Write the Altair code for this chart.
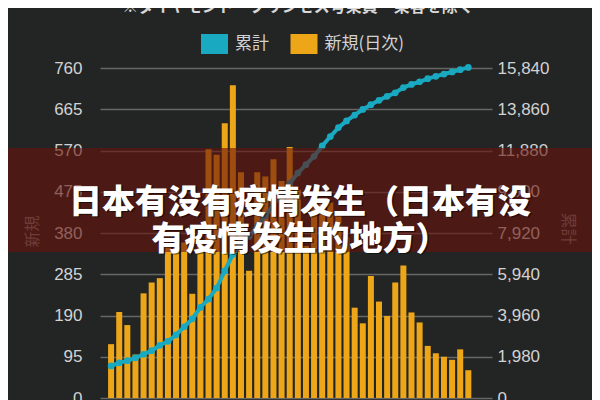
import altair as alt
import pandas as pd

# ---- data ----
days = list(range(45))
new_cases = [124, 198, 168, 100, 241, 266, 276, 356, 366, 358,
             240, 360, 573, 560, 633, 720, 520, 293, 520, 510,
             550, 500, 578, 480, 350, 440, 460, 450, 430, 370,
             208, 172, 281, 222, 189, 266, 305, 197, 174, 120,
             103, 95, 88, 112, 64]
cumulative = [1540, 1690, 1790, 1930, 2100, 2270, 2530, 2720, 3030, 3420,
              3800, 4350, 4750, 5280, 6100, 6900, 7400, 7750, 8250, 8750,
              9250, 9750, 10300, 10800, 11200, 11600, 12100, 12550, 12980, 13300,
              13580, 13850, 14080, 14290, 14480, 14650, 14900, 15050, 15180, 15330,
              15440, 15550, 15650, 15760, 15870]
series_names = ["累計", "新規(日次)"]
left_ticks = [0, 95, 190, 285, 380, 475, 570, 665, 760]
right_ticks = [0, 1980, 3960, 5940, 7920, 9900, 11880, 13860, 15840]
note_text = "※ダイヤモンド・プリンセス号乗員・乗客を除く"
banner_text = "日本有没有疫情发生（日本有没\n有疫情发生的地方）"

CYAN = "#19a9c1"
ORANGE = "#eea619"
BG = "#232525"

df = pd.DataFrame({"day": days, "new": new_cases, "cum": cumulative,
                   "series": series_names[1]})
one = pd.DataFrame({"k": [0]})

xenc = alt.X("day:Q", scale=alt.Scale(domain=[-0.75, 46.3], nice=False, zero=False), axis=None)

bars = alt.Chart(df).mark_bar(size=6).encode(
    x=xenc,
    y=alt.Y("new:Q",
            scale=alt.Scale(domain=[0, 760], nice=False),
            axis=alt.Axis(values=left_ticks, title="新規", orient="left",
                          grid=True, gridColor="#666666", gridWidth=1.5,
                          domain=False, ticks=False, tickSize=0, labelPadding=18,
                          labelFont="Liberation Sans", labelFontSize=17, labelColor="#d2d2d2",
                          titleFont="Noto Sans CJK JP", titleFontSize=16, titleColor="#7a7a7a",
                          titleFontWeight="normal", titleAngle=270, titleAlign="center",
                          titleBaseline="middle", titleX=-68, titleY=163)),
    color=alt.Color("series:N",
                    scale=alt.Scale(domain=series_names, range=[CYAN, ORANGE]),
                    legend=alt.Legend(title=None, orient="none", legendX=104.5, legendY=-34,
                                      direction="horizontal",
                                      symbolType="M-1.35,-1L1.35,-1L1.35,1L-1.35,1Z",
                                      symbolSize=400, symbolStrokeWidth=0, symbolOpacity=1,
                                      labelFont="Noto Sans CJK JP", labelFontSize=17,
                                      labelColor="#d2d2d2", labelOffset=10.5,
                                      columnPadding=20.5, padding=0)),
)

line = alt.Chart(df).mark_line(
    color=CYAN, strokeWidth=4,
    point=alt.OverlayMarkDef(filled=True, size=45, color=CYAN),
).encode(
    x=xenc,
    y=alt.Y("cum:Q",
            scale=alt.Scale(domain=[0, 15840], nice=False),
            axis=alt.Axis(values=right_ticks, title="累計", orient="right",
                          labelExpr="format(datum.value, ',')",
                          grid=False, domain=False, ticks=False, tickSize=0, labelPadding=5,
                          labelFont="Liberation Sans", labelFontSize=17, labelColor="#d2d2d2",
                          titleFont="Noto Sans CJK JP", titleFontSize=16, titleColor="#7a7a7a",
                          titleFontWeight="normal", titleAngle=90, titleAlign="center",
                          titleBaseline="middle", titleX=75, titleY=160)),
)

banner = alt.Chart(one).mark_rect(color="#67120a", opacity=0.6).encode(
    x=alt.value(-92), x2=alt.value(500), y=alt.value(80), y2=alt.value(184)
)

banner_shadow = alt.Chart(one).mark_text(
    font="Noto Sans CJK SC", fontSize=33, fontWeight=900, color="#000000", opacity=0.5,
    align="center", baseline="middle", lineBreak="\n", lineHeight=37, dx=1.5, dy=1.5,
).encode(x=alt.value(200), y=alt.value(134.5), text=alt.value(banner_text))

banner_label = alt.Chart(one).mark_text(
    font="Noto Sans CJK SC", fontSize=33, fontWeight=900, color="#ffffff",
    align="center", baseline="middle", lineBreak="\n", lineHeight=37,
).encode(x=alt.value(200), y=alt.value(134.5), text=alt.value(banner_text))

note = alt.Chart(one).mark_text(
    font="Noto Sans CJK JP", fontSize=16, fontWeight="bold", color="#d8d8d8",
    align="center", baseline="middle",
).encode(x=alt.value(198), y=alt.value(-61), text=alt.value(note_text))

chart = alt.layer(bars, line, banner, banner_shadow, banner_label, note).resolve_scale(
    y="independent"
).properties(
    width=392, height=330,
    autosize=alt.AutoSizeParams(type="none"),
    padding={"left": 92, "top": 60, "right": 100, "bottom": 2},
    background=BG,
).configure_view(stroke=None)

chart.save("out.html", embed_options={"renderer": "svg", "actions": False})
